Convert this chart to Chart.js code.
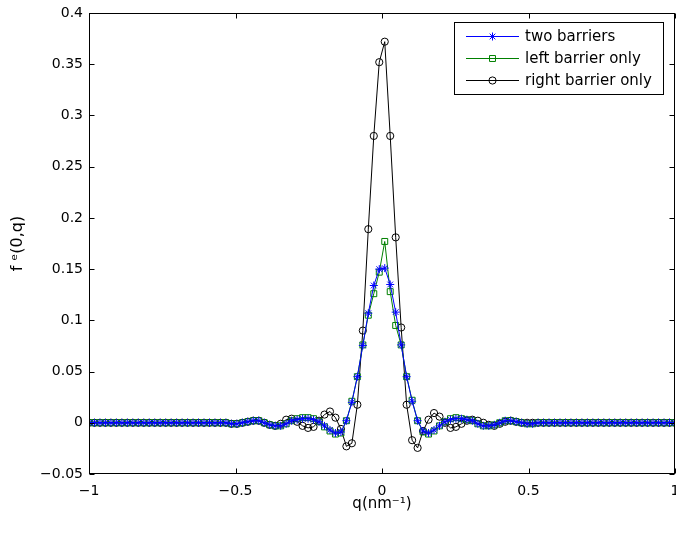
<!DOCTYPE html>
<html>
<head>
<meta charset="utf-8">
<script src="https://cdn.jsdelivr.net/npm/chart.js@4.4.0/dist/chart.umd.min.js"></script>
<style>
  html, body { margin: 0; padding: 0; background: #fff; overflow: hidden; }
  #wrap { width: 676px; height: 533px; position: relative; }
</style>
</head>
<body>
<div id="wrap"><canvas id="chartLine"></canvas></div>
<script>
  "use strict";

  // q grid: 108 samples from -1 to 1 (nm^-1)
  var qMin = -1, qMax = 1, nPts = 108;
  var q = [];
  for (var i = 0; i < nPts; i++) q.push(qMin + (i * (qMax - qMin)) / (nPts - 1));

  var xTicks = [-1, -0.5, 0, 0.5, 1];
  var yTicks = [-0.05, 0, 0.05, 0.1, 0.15, 0.2, 0.25, 0.3, 0.35, 0.4];

  // two barriers
  var twoBarriers = [
    0, 0, 0, 0, 0, 0, 0, 0, 0, 0, 0, 0,
    0, 0, 0, 0, 0, 0, 0, 0, 0, 0, 0, 0,
    0, 0, -0.001, -0.001, 0, 0.001, 0.002, 0.002, 0, -0.002, -0.003, -0.003,
    -0.001, 0.002, 0.003, 0.004, 0.004, 0.003, 0.001, -0.003, -0.007, -0.010, -0.009, 0.002,
    0.020, 0.045, 0.0755, 0.107, 0.134, 0.150, 0.151, 0.135, 0.108, 0.076, 0.045, 0.021,
    0.002, -0.008, -0.010, -0.007, -0.003, 0.001, 0.003, 0.004, 0.004, 0.003, 0.002, -0.001,
    -0.003, -0.003, -0.002, 0, 0.002, 0.002, 0.001, 0, -0.001, -0.001, 0, 0,
    0, 0, 0, 0, 0, 0, 0, 0, 0, 0, 0, 0,
    0, 0, 0, 0, 0, 0, 0, 0, 0, 0, 0, 0
  ];

  // left barrier only
  var leftOnly = [
    0, 0, 0, 0, 0, 0, 0, 0, 0, 0, 0, 0,
    0, 0, 0, 0, 0, 0, 0, 0, 0, 0, 0, 0,
    0, 0, -0.001, -0.001, 0, 0.001, 0.002, 0.002, 0, -0.002, -0.003, -0.003,
    -0.001, 0.002, 0.004, 0.005, 0.005, 0.004, 0.001, -0.004, -0.008, -0.011, -0.010, 0.002,
    0.021, 0.045, 0.076, 0.105, 0.126, 0.147, 0.177, 0.128, 0.095, 0.076, 0.045, 0.022,
    0.002, -0.009, -0.011, -0.008, -0.003, 0.001, 0.004, 0.005, 0.004, 0.003, 0.002, -0.001,
    -0.003, -0.003, -0.002, 0, 0.002, 0.002, 0.001, 0, -0.001, -0.001, 0, 0,
    0, 0, 0, 0, 0, 0, 0, 0, 0, 0, 0, 0,
    0, 0, 0, 0, 0, 0, 0, 0, 0, 0, 0, 0
  ];

  // right barrier only
  var rightOnly = [
    0, 0, 0, 0, 0, 0, 0, 0, 0, 0, 0, 0,
    0, 0, 0, 0, 0, 0, 0, 0, 0, 0, 0, 0,
    0, 0, -0.001, -0.001, 0, 0.001, 0.002, 0.002, 0, -0.002, -0.003, -0.001,
    0.003, 0.004, 0.001, -0.003, -0.005, -0.004, 0.002, 0.008, 0.011, 0.005, -0.006, -0.023,
    -0.020, 0.0176, 0.090, 0.189, 0.280, 0.352, 0.372, 0.280, 0.181, 0.093, 0.0176, -0.017,
    -0.0245, -0.008, 0.003, 0.0095, 0.006, 0, -0.005, -0.004, -0.001, 0.002, 0.003, 0.002,
    0, -0.002, -0.003, -0.001, 0.001, 0.002, 0.001, 0, 0, 0, 0, 0,
    0, 0, 0, 0, 0, 0, 0, 0, 0, 0, 0, 0,
    0, 0, 0, 0, 0, 0, 0, 0, 0, 0, 0, 0
  ];

  function pts(ys) {
    return ys.map(function (v, k) { return { x: q[k], y: v }; });
  }

  function fmt(v) {
    return parseFloat(Number(v).toFixed(2)).toString().replace("-", "\u2212");
  }

  var FONT = "'DejaVu Sans', sans-serif";

  function drawMarker(ctx, style, x, y, r) {
    ctx.beginPath();
    if (style === "star") {
      for (var a = 0; a < 4; a++) {
        var ang = (a * Math.PI) / 4;
        ctx.moveTo(x - Math.cos(ang) * r, y - Math.sin(ang) * r);
        ctx.lineTo(x + Math.cos(ang) * r, y + Math.sin(ang) * r);
      }
    } else if (style === "rect") {
      var s = r * Math.SQRT1_2;
      ctx.rect(x - s, y - s, 2 * s, 2 * s);
    } else {
      ctx.arc(x, y, r, 0, Math.PI * 2);
    }
    ctx.stroke();
  }

  // MATLAB-like box with inward ticks, and the x tick labels
  // (drawn here so the last label may run off the canvas like the original)
  var framePlugin = {
    id: "frame",
    afterDatasetsDraw: function (chart) {
      var ctx = chart.ctx, a = chart.chartArea;
      var xs = chart.scales.x, ys = chart.scales.y;
      var L = Math.round(a.left) + 0.5, R = Math.round(a.right) - 0.5;
      var T = Math.round(a.top) + 0.5, B = Math.round(a.bottom) - 0.5;
      ctx.save();
      ctx.strokeStyle = "#000";
      ctx.lineWidth = 1;
      ctx.strokeRect(L, T, R - L, B - T);
      ctx.beginPath();
      xTicks.forEach(function (t) {
        var px = Math.round(xs.getPixelForValue(t)) + 0.5;
        ctx.moveTo(px, B); ctx.lineTo(px, B - 5);
        ctx.moveTo(px, T); ctx.lineTo(px, T + 5);
      });
      yTicks.forEach(function (t) {
        var py = Math.round(ys.getPixelForValue(t)) + 0.5;
        ctx.moveTo(L, py); ctx.lineTo(L + 5, py);
        ctx.moveTo(R, py); ctx.lineTo(R - 5, py);
      });
      ctx.stroke();

      ctx.fillStyle = "#000";
      ctx.font = "14px " + FONT;
      ctx.textAlign = "center";
      ctx.textBaseline = "middle";
      xTicks.forEach(function (t) {
        ctx.fillText(fmt(t), xs.getPixelForValue(t), a.bottom + 17);
      });
      ctx.restore();
    }
  };

  // legend with line + marker samples
  var legendPlugin = {
    id: "boxLegend",
    afterDraw: function (chart) {
      var ctx = chart.ctx;
      var bx = 454.5, by = 22.5, bw = 209, bh = 72;
      ctx.save();
      ctx.fillStyle = "#fff";
      ctx.fillRect(bx, by, bw, bh);
      ctx.strokeStyle = "#000";
      ctx.lineWidth = 1;
      ctx.strokeRect(bx, by, bw, bh);
      ctx.font = "15px " + FONT;
      ctx.textBaseline = "middle";
      chart.data.datasets.forEach(function (ds, i) {
        var y = 36.5 + 22 * i;
        ctx.strokeStyle = ds.borderColor;
        ctx.beginPath();
        ctx.moveTo(466, y); ctx.lineTo(519, y);
        ctx.stroke();
        drawMarker(ctx, ds.pointStyle, 492.5, y, ds.pointRadius);
        ctx.fillStyle = "#000";
        ctx.fillText(ds.label, 525, y + 1);
      });
      ctx.restore();
    }
  };

  function series(label, color, style, radius, ys) {
    return {
      label: label,
      data: pts(ys),
      showLine: true,
      borderColor: color,
      backgroundColor: "rgba(0,0,0,0)",
      borderWidth: 1,
      pointStyle: style,
      pointRadius: radius,
      pointHoverRadius: radius,
      pointBorderWidth: 1,
      pointBorderColor: color,
      pointBackgroundColor: "rgba(0,0,0,0)",
      tension: 0,
      fill: false,
    };
  }

  var ctx = document.getElementById("chartLine").getContext("2d");
  var chart = new Chart(ctx, {
    type: "scatter",
    data: {
      datasets: [
        series("two barriers", "#0000ff", "star", 4, twoBarriers),
        series("left barrier only", "#008000", "rect", 4.2, leftOnly),
        series("right barrier only", "#000000", "circle", 3.6, rightOnly),
      ],
    },
    options: {
      responsive: true,
      maintainAspectRatio: false,
      animation: false,
      devicePixelRatio: 1,
      layout: { autoPadding: false, padding: { top: 13, right: 1, left: 0, bottom: 0 } },
      plugins: {
        legend: { display: false },
        tooltip: { enabled: false },
      },
      scales: {
        x: {
          type: "linear",
          min: -1,
          max: 1,
          afterBuildTicks: function (s) {
            s.ticks = xTicks.map(function (v) { return { value: v }; });
          },
          ticks: { display: false },
          grid: { display: false, drawTicks: false },
          border: { display: false },
          title: {
            display: true,
            text: "q(nm\u207B\u00B9)",
            color: "#000",
            font: { family: FONT, size: 15 },
            padding: { top: 0, bottom: 20 },
          },
          afterFit: function (s) {
            s.height = 59;
            s.paddingLeft = 0;
            s.paddingRight = 0;
          },
        },
        y: {
          type: "linear",
          min: -0.05,
          max: 0.4,
          afterBuildTicks: function (s) {
            s.ticks = yTicks.map(function (v) { return { value: v }; });
          },
          ticks: {
            callback: fmt,
            color: "#000",
            font: { family: FONT, size: 14 },
            padding: 6,
            autoSkip: false,
          },
          grid: { display: false, drawTicks: false },
          border: { display: false },
          title: {
            display: true,
            text: "f \u1D49(0,q)",
            color: "#000",
            font: { family: FONT, size: 16 },
            padding: { top: 8, bottom: 0 },
          },
          afterFit: function (s) {
            s.width = 89;
            s.paddingTop = 0;
            s.paddingBottom = 0;
          },
        },
      },
    },
    plugins: [framePlugin, legendPlugin],
  });
</script>
</body>
</html>
